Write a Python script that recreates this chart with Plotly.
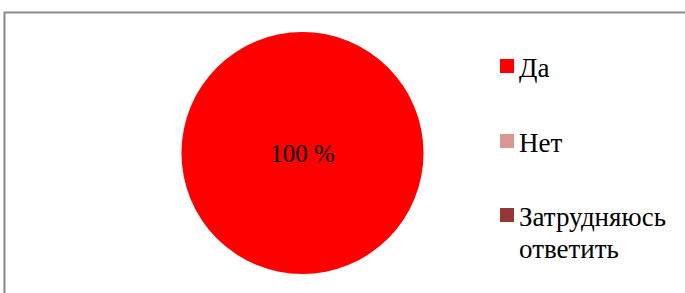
import plotly.graph_objects as go

labels = ["Да", "Нет", "Затрудняюсь ответить"]
values = [100, 0, 0]
colors = ["#FF0000", "#D99694", "#953735"]

W, H = 685, 293
FONT = "Times New Roman, Liberation Serif, serif"

fig = go.Figure()
fig.add_trace(go.Pie(
    labels=labels, values=values, sort=False, direction="clockwise",
    marker=dict(colors=colors, line=dict(width=0)),
    texttemplate=["%{value} %" if v > 0 else "" for v in values],
    textposition="inside", insidetextorientation="horizontal",
    textfont=dict(family=FONT, size=25, color="black"),
    showlegend=False, hoverinfo="label+percent",
    domain=dict(x=[181 / W, 424 / W], y=[(140 - 121) / H, (140 + 121) / H]),
))

shapes = [dict(type="rect", xref="paper", yref="paper",
               x0=4.5 / W, x1=1.05, y0=-0.1, y1=(H - 12.5) / H,
               line=dict(color="#898989", width=2), fillcolor="rgba(0,0,0,0)")]
annotations = []
item_top = [59, 134, 208]
for i, (lab, col) in enumerate(zip(labels, colors)):
    top = item_top[i]
    shapes.append(dict(type="rect", xref="paper", yref="paper",
                       x0=500 / W, x1=514 / W, y0=(H - top - 14) / H, y1=(H - top) / H,
                       line=dict(width=0), fillcolor=col))
    words = lab.split(" ")
    for j, w in enumerate(words):
        cy = top + 9 + j * 32
        annotations.append(dict(xref="paper", yref="paper", x=517 / W, y=(H - cy) / H,
                                text=w, showarrow=False, xanchor="left", yanchor="middle",
                                font=dict(family=FONT, size=27, color="black")))

fig.update_layout(width=W, height=H, margin=dict(l=0, r=0, t=0, b=0),
                  paper_bgcolor="white", plot_bgcolor="white",
                  shapes=shapes, annotations=annotations)
fig.write_html("out.html", config={"displayModeBar": False},
               post_script="document.body.style.margin='0';document.body.style.overflow='hidden';")
